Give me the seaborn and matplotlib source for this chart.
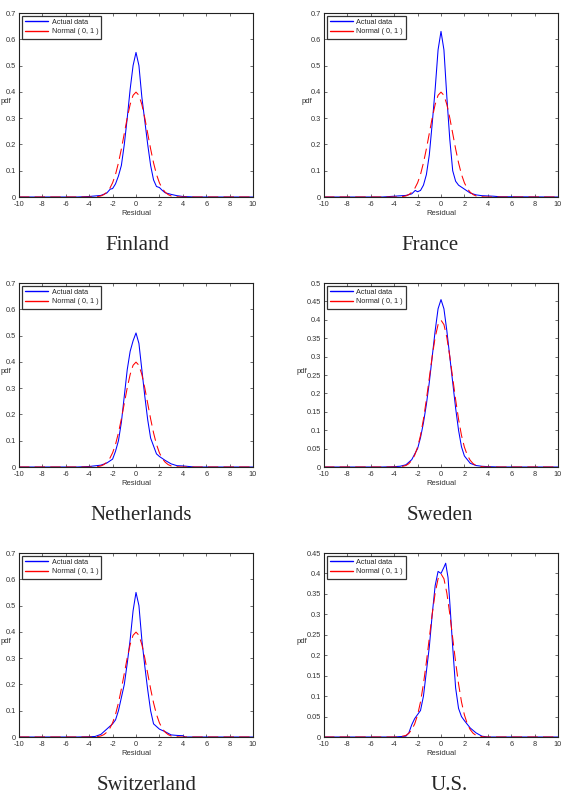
import numpy as np
import pandas as pd
import seaborn as sns
import matplotlib.pyplot as plt
from matplotlib.lines import Line2D

# residual grid (x)
x_fin = [-10, -5, -4, -3.5, -3, -2.5, -2.2, -2, -1.75, -1.5, -1.25, -1, -0.75, -0.5, -0.25, 0,
         0.25, 0.5, 0.75, 1, 1.25, 1.5, 1.75, 2, 2.25, 2.5, 3, 3.5, 4, 5, 10]
y_fin = [0, 0, 0.002, 0.004, 0.006, 0.015, 0.03, 0.032, 0.05, 0.08, 0.12, 0.2, 0.3, 0.41, 0.5, 0.55,
         0.5, 0.38, 0.29, 0.2, 0.12, 0.065, 0.04, 0.036, 0.025, 0.016, 0.01, 0.005, 0.002, 0, 0]

x_fra = [-10, -5, -4, -3, -2.5, -2.2, -2, -1.75, -1.5, -1.25, -1, -0.75, -0.5, -0.25, 0,
         0.25, 0.5, 0.75, 1, 1.25, 1.5, 2, 2.5, 3, 3.5, 4, 4.5, 5, 10]
y_fra = [0, 0, 0.003, 0.006, 0.012, 0.025, 0.02, 0.025, 0.045, 0.085, 0.16, 0.28, 0.41, 0.56, 0.63,
         0.56, 0.38, 0.22, 0.1, 0.06, 0.045, 0.03, 0.015, 0.008, 0.005, 0.004, 0.003, 0.001, 0]

x_ned = [-10, -5, -4, -3, -2.5, -2, -1.75, -1.5, -1.25, -1, -0.75, -0.5, -0.25, 0,
         0.25, 0.5, 0.75, 1, 1.25, 1.5, 1.75, 2, 2.5, 3, 3.5, 4, 4.5, 5, 10]
y_ned = [0, 0, 0.002, 0.007, 0.015, 0.03, 0.06, 0.1, 0.17, 0.27, 0.37, 0.44, 0.48, 0.51,
         0.47, 0.37, 0.27, 0.18, 0.11, 0.08, 0.05, 0.04, 0.025, 0.012, 0.005, 0.004, 0.002, 0, 0]

x_swe = [-10, -5, -4, -3.5, -3, -2.5, -2.25, -2, -1.75, -1.5, -1.25, -1, -0.75, -0.5, -0.25, 0,
         0.25, 0.5, 0.75, 1, 1.25, 1.5, 1.75, 2, 2.5, 3, 3.5, 4, 5, 10]
y_swe = [0, 0, 0.001, 0.002, 0.006, 0.02, 0.035, 0.05, 0.08, 0.12, 0.17, 0.23, 0.3, 0.37, 0.43, 0.455,
         0.43, 0.37, 0.3, 0.23, 0.16, 0.1, 0.055, 0.03, 0.01, 0.004, 0.002, 0.001, 0, 0]

x_swi = [-10, -5, -4, -3.5, -3, -2.5, -2, -1.75, -1.5, -1.25, -1, -0.75, -0.5, -0.25, 0,
         0.25, 0.5, 0.75, 1, 1.25, 1.5, 2, 2.5, 3, 3.5, 4, 4.2, 5, 10]
y_swi = [0, 0, 0.001, 0.002, 0.01, 0.03, 0.05, 0.065, 0.1, 0.15, 0.2, 0.28, 0.37, 0.48, 0.55,
         0.5, 0.37, 0.27, 0.18, 0.1, 0.05, 0.03, 0.02, 0.008, 0.006, 0.005, 0, 0, 0]

x_us = [-10, -5, -4, -3, -2.75, -2.5, -2.25, -2, -1.75, -1.5, -1.25, -1, -0.75, -0.5, -0.25, 0,
        0.25, 0.4, 0.6, 0.75, 1, 1.25, 1.5, 1.75, 2, 2.5, 3, 3.5, 4, 5, 10]
y_us = [0, 0, 0, 0.002, 0.01, 0.03, 0.045, 0.055, 0.065, 0.1, 0.16, 0.22, 0.3, 0.37, 0.405, 0.4,
        0.415, 0.425, 0.39, 0.33, 0.22, 0.12, 0.07, 0.05, 0.04, 0.022, 0.01, 0.002, 0, 0, 0]

# reference Normal(0,1) curve
x_norm = [-10, -4, -3.75, -3.5, -3.25, -3, -2.75, -2.5, -2.25, -2, -1.75, -1.5, -1.25, -1, -0.75, -0.5, -0.25, 0,
          0.25, 0.5, 0.75, 1, 1.25, 1.5, 1.75, 2, 2.25, 2.5, 2.75, 3, 3.25, 3.5, 3.75, 4, 10]
y_norm = [0, 0, 0, 0.001, 0.002, 0.004, 0.009, 0.018, 0.032, 0.054, 0.086, 0.13, 0.183, 0.242, 0.301, 0.352, 0.387, 0.399,
          0.387, 0.352, 0.301, 0.242, 0.183, 0.13, 0.086, 0.054, 0.032, 0.018, 0.009, 0.004, 0.002, 0.001, 0, 0, 0]

countries = ['Finland', 'France', 'Netherlands', 'Sweden', 'Switzerland', 'U.S.']
series = [(x_fin, y_fin), (x_fra, y_fra), (x_ned, y_ned), (x_swe, y_swe), (x_swi, y_swi), (x_us, y_us)]
ymax = [0.7, 0.7, 0.7, 0.5, 0.7, 0.45]
ystep = [0.1, 0.1, 0.1, 0.05, 0.1, 0.05]

sns.set_style('ticks')
plt.rcParams['font.family'] = ['Liberation Sans', 'DejaVu Sans']
plt.rcParams['axes.unicode_minus'] = False

fig = plt.figure(figsize=(5.67, 8), dpi=100)
lefts = [19, 324]
tops = [13, 283, 553]
cap_x = [137, 430, 141, 440, 147, 449]
cap_y = [245, 245, 515, 515, 785, 785]
W, H = 567, 800

for i, name in enumerate(countries):
    r, c = divmod(i, 2)
    ax = fig.add_axes([lefts[c] / W, 1 - (tops[r] + 184) / H, 234 / W, 184 / H])
    xs, ys = series[i]
    d1 = pd.DataFrame({'Residual': xs, 'pdf': ys})
    d2 = pd.DataFrame({'Residual': x_norm, 'pdf': y_norm})
    sns.lineplot(data=d1, x='Residual', y='pdf', color='#0000ff', lw=0.75, ax=ax, legend=False)
    sns.lineplot(data=d2, x='Residual', y='pdf', color='#ff0000', lw=0.75, ax=ax, legend=False)
    ax.get_lines()[1].set_dashes((10, 5))
    ax.set_xlim(-10, 10)
    ax.set_ylim(0, ymax[i])
    ax.set_xticks(np.arange(-10, 11, 2))
    yt = np.round(np.arange(0, ymax[i] + 1e-9, ystep[i]), 2)
    ax.set_yticks(yt)
    ax.set_yticklabels(['%g' % v for v in yt])
    ax.tick_params(direction='in', top=True, right=True, labelsize=5.3, length=2.5, width=0.5, pad=2,
                   colors='#333333', labelcolor='#333333')
    ax.tick_params(axis='x', pad=2.6)
    for s in ax.spines.values():
        s.set_linewidth(0.8)
        s.set_color('#222222')
    ax.set_xlabel('Residual', fontsize=5.5, color='#333333', labelpad=2)
    ax.set_ylabel('pdf', fontsize=5.5, rotation=0, ha='right', va='center', color='#333333')
    if c == 0:
        ax.yaxis.set_label_coords(-0.034, 0.52)
    else:
        ax.yaxis.set_label_coords(-0.052 if ystep[i] == 0.1 else -0.072, 0.52)
    handles = [Line2D([], [], color='#0000ff', lw=1.0),
               Line2D([], [], color='#ff0000', lw=1.0)]
    leg = ax.legend(handles, ['Actual data', 'Normal ( 0, 1 )'], loc='upper left', fontsize=5.2,
                    frameon=True, fancybox=False, borderaxespad=0.35, handlelength=3.2, borderpad=0.45,
                    labelspacing=0.35, handletextpad=0.5)
    leg.get_frame().set_edgecolor('black')
    leg.get_frame().set_linewidth(0.9)
    fig.text(cap_x[i] / W, 1 - cap_y[i] / H, name, ha='center', va='center', fontsize=15,
             family=['Liberation Serif', 'DejaVu Serif'])

fig.savefig('out.png', dpi=100, facecolor='white')
